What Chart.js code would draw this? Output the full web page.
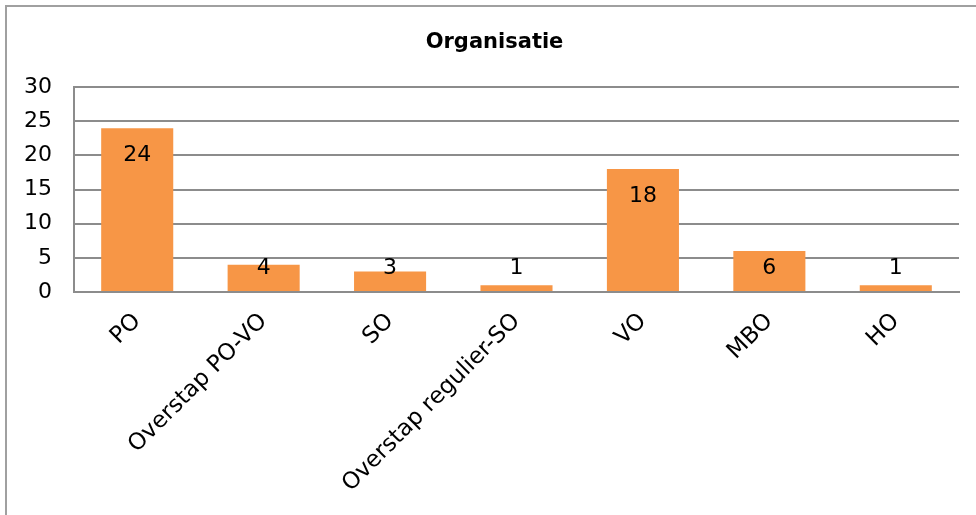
<!DOCTYPE html>
<html>
<head>
<meta charset="utf-8">
<script src="https://cdn.jsdelivr.net/npm/chart.js@4"></script>
<style>
  html, body { margin: 0; padding: 0; background: #fff; }
  #wrap { width: 976px; height: 515px; }
</style>
</head>
<body>
<div id="wrap"><canvas id="myChart" width="976" height="515"></canvas></div>
<script>
// data
const categories = ["PO", "Overstap PO-VO", "SO", "Overstap regulier-SO", "VO", "MBO", "HO"];
const counts = [24, 4, 3, 1, 18, 6, 1];
const yTicks = [0, 5, 10, 15, 20, 25, 30];

const FONT = "'DejaVu Sans', Verdana, sans-serif";

// grey frame round the chart (only left and top are visible)
const framePlugin = {
  id: "frame",
  beforeDraw(chart) {
    const ctx = chart.ctx;
    ctx.save();
    ctx.strokeStyle = "#a0a0a0";
    ctx.lineWidth = 2;
    ctx.strokeRect(6, 6, 1000, 600);
    ctx.restore();
  },
  // the title sits a bit right of the canvas centre
  afterLayout(chart) {
    if (chart.titleBlock) {
      chart.titleBlock.left += 8;
      chart.titleBlock.right += 8;
    }
  },
};

// value labels, inside the top of the bar, kept above the axis for short bars
const valueLabels = {
  id: "valueLabels",
  afterDatasetsDraw(chart) {
    const ctx = chart.ctx;
    const meta = chart.getDatasetMeta(0);
    ctx.save();
    ctx.font = "22px " + FONT;
    ctx.fillStyle = "#000";
    ctx.textAlign = "center";
    ctx.textBaseline = "middle";
    meta.data.forEach((bar, i) => {
      const y = Math.min(bar.y + 27, bar.base - 23);
      ctx.fillText(String(counts[i]), bar.x, y);
    });
    ctx.restore();
  },
};

const config = {
  type: "bar",
  data: {
    labels: categories,
    datasets: [
      {
        label: "Organisatie",
        data: counts,
        backgroundColor: "#F79646",
        borderWidth: 0,
        categoryPercentage: 1,
        barPercentage: 0.57,
      },
    ],
  },
  options: {
    responsive: false,
    animation: false,
    layout: { padding: { left: 14, right: 17, top: 0, bottom: 0 } },
    plugins: {
      legend: { display: false },
      tooltip: { enabled: false },
      title: {
        display: true,
        text: "Organisatie",
        color: "#000",
        font: { family: FONT, size: 21, weight: "bold" },
        padding: { top: 30, bottom: 32 },
      },
    },
    scales: {
      x: {
        grid: { display: false, drawTicks: false },
        border: { color: "#8c8c8c", width: 2 },
        ticks: {
          color: "#000",
          font: { family: FONT, size: 23 },
          maxRotation: 45,
          minRotation: 45,
          padding: 16,
          autoSkip: false,
        },
        afterFit(scale) {
          scale.height = 223;
        },
      },
      y: {
        min: 0,
        max: 30,
        afterBuildTicks(scale) {
          scale.ticks = yTicks.map((v) => ({ value: v }));
        },
        grid: { color: "#8c8c8c", lineWidth: 2, drawTicks: false },
        border: { color: "#8c8c8c", width: 2 },
        ticks: {
          color: "#000",
          font: { family: FONT, size: 22 },
          padding: 22,
        },
        afterFit(scale) {
          scale.width = 60;
        },
      },
    },
  },
  plugins: [framePlugin, valueLabels],
};

const myChart = new Chart(document.getElementById("myChart"), config);
</script>
</body>
</html>
